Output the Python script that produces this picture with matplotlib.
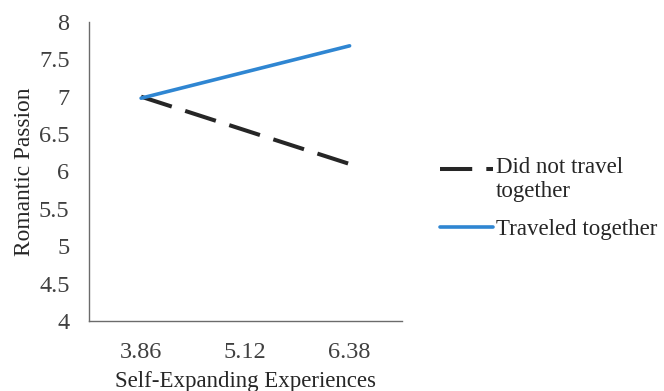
import matplotlib.pyplot as plt
import numpy as np
from matplotlib.legend_handler import HandlerLine2D

plt.rcParams['font.family'] = ['Liberation Serif', 'DejaVu Serif']

# Data
experiences = ["3.86", "5.12", "6.38"]
did_not_travel = [7.00, 6.55, 6.10]
traveled = [6.98, 7.33, 7.68]
y_ticks = [4, 4.5, 5, 5.5, 6, 6.5, 7, 7.5, 8]


# legend handle sits on the first line of a two-line label (Excel style)
class TopLineHandler(HandlerLine2D):
    def __init__(self, shift, **kw):
        super().__init__(**kw)
        self.shift = shift

    def create_artists(self, legend, orig_handle, xdescent, ydescent,
                       width, height, fontsize, trans):
        return super().create_artists(legend, orig_handle, xdescent,
                                      ydescent - self.shift, width, height,
                                      fontsize, trans)


fig = plt.figure(figsize=(6.64, 3.91), dpi=100)
ax = fig.add_axes([0.134, 0.179, 0.471, 0.765])

x = np.arange(len(experiences))
l1, = ax.plot(x, did_not_travel, color="#262626", linewidth=2.9,
              dashes=(8, 3.5), label="Did not travel\ntogether")
l2, = ax.plot(x, traveled, color="#2F86D2", linewidth=2.6,
              solid_capstyle="round", label="Traveled together")

ax.set_xlim(-0.5, len(experiences) - 0.5)
ax.set_ylim(4, 8)
ax.set_xticks(x)
ax.set_xticklabels(experiences)
ax.set_yticks(y_ticks)
ax.set_yticklabels([f"{v:g}" for v in y_ticks])
ax.tick_params(length=0, labelsize=17.5, colors="#404040")
ax.tick_params(axis="y", pad=14)
ax.tick_params(axis="x", pad=15)

for side in ["top", "right"]:
    ax.spines[side].set_visible(False)
for side in ["left", "bottom"]:
    ax.spines[side].set_color("#6b6b6b")
    ax.spines[side].set_linewidth(1.0)

ax.set_xlabel("Self-Expanding Experiences", fontsize=16.5, color="#262626", labelpad=6)
ax.set_ylabel("Romantic Passion", fontsize=16.8, color="#262626", labelpad=3)

fig.legend(handles=[l1, l2], loc="upper left", bbox_to_anchor=(0.631, 0.652),
           frameon=False, fontsize=16.5, handlelength=2.35, handletextpad=0.1,
           labelspacing=0.75, labelcolor="#262626",
           handler_map={l1: TopLineHandler(14.5)})

fig.savefig("out.png", dpi=100)
